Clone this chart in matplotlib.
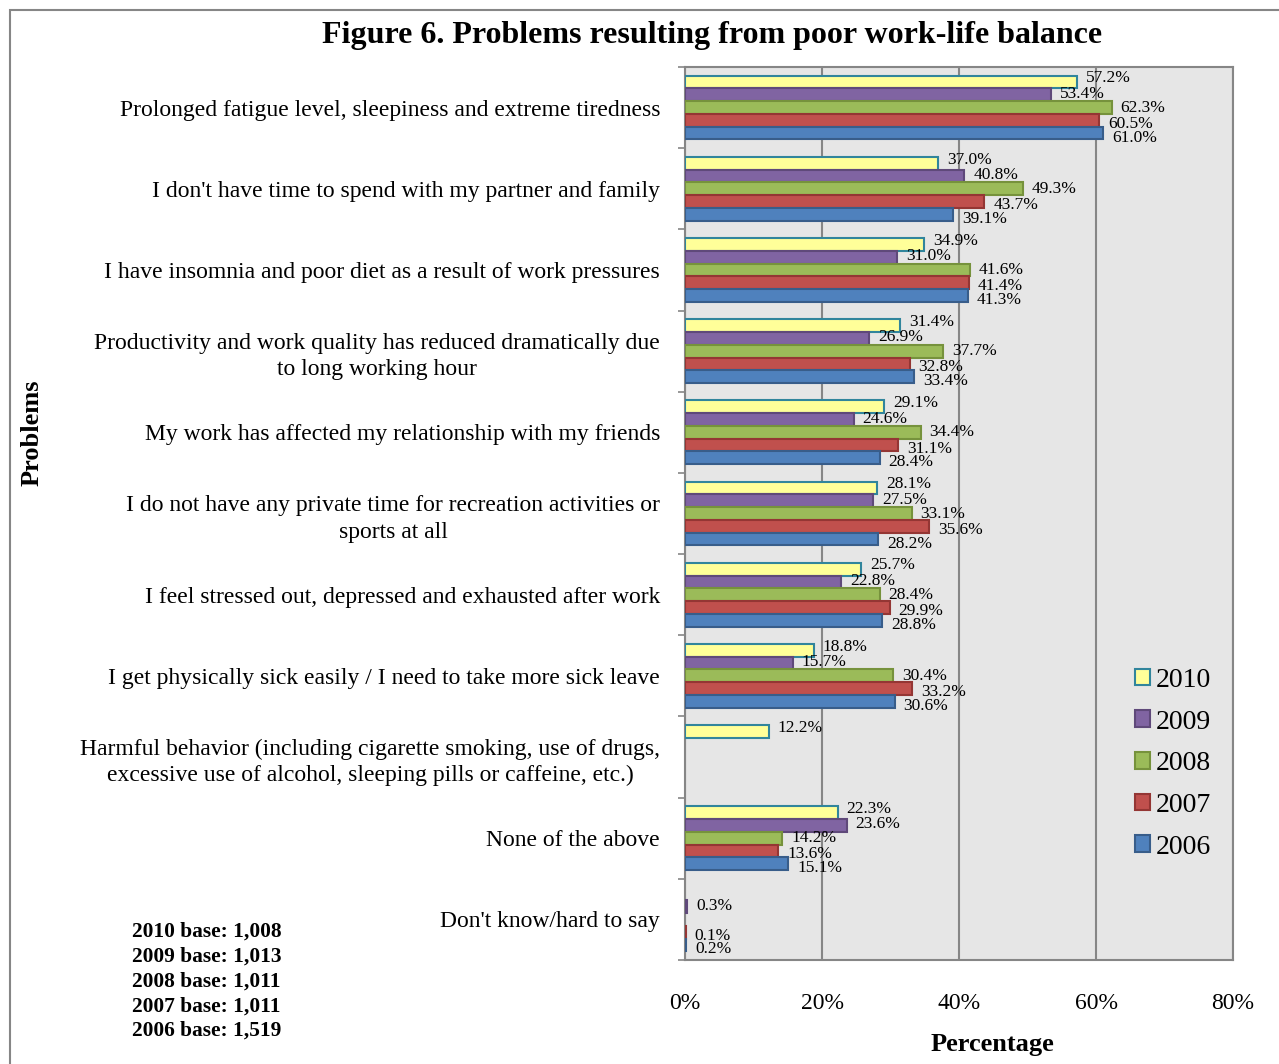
import numpy as np
import matplotlib
matplotlib.use("Agg")
import matplotlib.pyplot as plt
from matplotlib.patches import Patch, Rectangle
from matplotlib.ticker import FixedLocator

plt.rcParams['font.family'] = ['Liberation Serif', 'DejaVu Serif']

# Data
problems = [
    "Prolonged fatigue level, sleepiness and extreme tiredness",
    "I don't have time to spend with my partner and family",
    "I have insomnia and poor diet as a result of work pressures",
    "Productivity and work quality has reduced dramatically due\nto long working hour",
    "My work has affected my relationship with my friends",
    "I do not have any private time for recreation activities or\nsports at all",
    "I feel stressed out, depressed and exhausted after work",
    "I get physically sick easily / I need to take more sick leave",
    "Harmful behavior (including cigarette smoking, use of drugs,\nexcessive use of alcohol, sleeping pills or caffeine, etc.)",
    "None of the above",
    "Don't know/hard to say",
]
years = ['2010', '2009', '2008', '2007', '2006']
nan = np.nan
pct_2010 = [57.2, 37.0, 34.9, 31.4, 29.1, 28.1, 25.7, 18.8, 12.2, 22.3, nan]
pct_2009 = [53.4, 40.8, 31.0, 26.9, 24.6, 27.5, 22.8, 15.7, nan, 23.6, 0.3]
pct_2008 = [62.3, 49.3, 41.6, 37.7, 34.4, 33.1, 28.4, 30.4, nan, 14.2, nan]
pct_2007 = [60.5, 43.7, 41.4, 32.8, 31.1, 35.6, 29.9, 33.2, nan, 13.6, 0.1]
pct_2006 = [61.0, 39.1, 41.3, 33.4, 28.4, 28.2, 28.8, 30.6, nan, 15.1, 0.2]
bases = ["2010 base: 1,008", "2009 base: 1,013", "2008 base: 1,011",
         "2007 base: 1,011", "2006 base: 1,519"]

series = [pct_2010, pct_2009, pct_2008, pct_2007, pct_2006]
face = ['#FFFF99', '#8064A2', '#9BBB59', '#C0504D', '#4F81BD']
edge = ['#31859C', '#5F497A', '#76923C', '#943634', '#385D8A']

W, H = 1279, 1064
fig = plt.figure(figsize=(W / 100, H / 100), dpi=100)
ax = fig.add_axes([685 / W, 1 - 960 / H, (1233 - 685) / W, (960 - 67) / H])
ax.set_facecolor('#E6E6E6')

y = np.arange(len(problems))
bar_h = 0.157
label_dy = [-0.36, -0.17, 0.0, 0.2, 0.37]

for i, vals in enumerate(series):
    ypos = y + (i - 2) * bar_h
    ax.barh(ypos, vals, height=bar_h, color=face[i], edgecolor=edge[i],
            linewidth=1.5, zorder=3)
    for yi, v in zip(y, vals):
        if np.isnan(v):
            continue
        ax.text(v + 1.3, yi + label_dy[i], f'{v:.1f}%', ha='left', va='center',
                fontsize=12.5, zorder=4)

ax.set_xlim(0, 80)
ax.set_ylim(len(problems) - 0.5, -0.5)
ax.set_xticks(np.arange(0, 81, 20))
ax.set_xticklabels([f'{t}%' for t in range(0, 81, 20)], fontsize=17)
ax.tick_params(axis='x', length=0, pad=24)
ax.set_yticks(y)
ax.set_yticklabels(problems, fontsize=17, multialignment='center', linespacing=1.35)
ax.tick_params(axis='y', which='major', length=0, pad=18)
ax.yaxis.set_minor_locator(FixedLocator(np.arange(-0.5, len(problems), 1)))
ax.tick_params(axis='y', which='minor', length=5, color='#868686', width=1.2)

ax.grid(axis='x', color='#868686', linewidth=1.5, zorder=0)
for s in ax.spines.values():
    s.set_color('#868686')
    s.set_linewidth(1.5)

handles = [Patch(facecolor=face[i], edgecolor=edge[i], linewidth=1.5, label=years[i])
           for i in range(len(years))]
ax.legend(handles=handles, loc='upper left', bbox_to_anchor=(1121 / W, 1 - 654 / H),
          bbox_transform=fig.transFigure, frameon=False, fontsize=20,
          handlelength=0.55, handleheight=0.55, handletextpad=0.2, labelspacing=0.6,
          borderpad=0)

fig.text(712 / W, 1 - 35 / H, 'Figure 6. Problems resulting from poor work-life balance',
         ha='center', va='center', fontsize=23, fontweight='bold')
fig.text(992 / W, 1 - 1045 / H, 'Percentage', ha='center', va='center',
         fontsize=19, fontweight='bold')
fig.text(32 / W, 1 - 433 / H, 'Problems', ha='center', va='center', rotation=90,
         fontsize=19, fontweight='bold')
for k, b in enumerate(bases):
    fig.text(132 / W, 1 - (932 + k * 24.7) / H, b, ha='left', va='center',
             fontsize=15.4, fontweight='bold')

fig.patches.append(Rectangle((9.5 / W, -0.05), 1.2, 1 - 9.5 / H + 0.05,
                             transform=fig.transFigure, fill=False,
                             edgecolor='#868686', linewidth=1.5))

fig.savefig('out.png', dpi=100)
